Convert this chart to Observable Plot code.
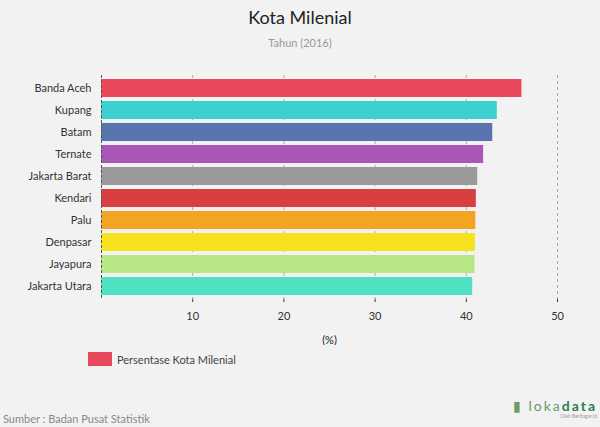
<!DOCTYPE html>
<html>
<head>
<meta charset="utf-8">
<script src="https://cdn.jsdelivr.net/npm/d3@7"></script>
<script src="https://cdn.jsdelivr.net/npm/@observablehq/plot@0.6"></script>
<style>
  html, body { margin: 0; padding: 0; background: #f2f2f2; width: 600px; height: 427px; overflow: hidden; font-family: Lato, "Open Sans", sans-serif; }
  #wrap { position: relative; width: 600px; height: 427px; }
  #title { position: absolute; top: 6px; left: 0; width: 600px; text-align: center; font-size: 18px; color: #222; }
  #subtitle { position: absolute; top: 36px; left: 0; width: 600px; text-align: center; font-size: 11px; color: #999; }
  #chart { position: absolute; top: 0; left: 0; }
  #legend { position: absolute; top: 352px; left: 88px; display: flex; align-items: center; font-size: 11px; color: #444; }
  #legend .sw { width: 24px; height: 14px; background: #e8495b; margin-right: 5px; }
  #source { position: absolute; top: 412px; left: 3px; font-size: 11px; color: #888; }
  #logo { position: absolute; top: 399px; right: 3px; text-align: right; }
  #logo .l1 { font-size: 14px; letter-spacing: 2px; color: #6a9a6a; line-height: 14px; }
  #logo .l1 b { color: #2e7d4f; font-weight: bold; }
  #logo .l2 { font-size: 5px; color: #999; }
</style>
</head>
<body>
<div id="wrap">
  <div id="title">Kota Milenial</div>
  <div id="subtitle">Tahun (2016)</div>
  <div id="chart"></div>
  <div id="legend"><div class="sw"></div><span>Persentase Kota Milenial</span></div>
  <div id="source">Sumber : Badan Pusat Statistik</div>
  <div id="logo"><div class="l1">&#9646; loka<b>data</b></div><div class="l2">Oleh Beritagar.id</div></div>
</div>
<script>
const cities = ["Banda Aceh", "Kupang", "Batam", "Ternate", "Jakarta Barat", "Kendari", "Palu", "Denpasar", "Jayapura", "Jakarta Utara"];
const values = [46.1, 43.4, 42.9, 41.9, 41.25, 41.1, 41.05, 41.0, 40.95, 40.7];
const colors = ["#e8495b", "#3cd0ce", "#5a74ae", "#a957b6", "#9a9a9a", "#d8403f", "#f3a423", "#f7e31d", "#b9e785", "#4fe2c1"];
const xTicks = [10, 20, 30, 40, 50];

const data = cities.map((c, i) => ({ city: c, value: values[i], color: colors[i] }));

const plot = Plot.plot({
  width: 600,
  height: 345,
  marginLeft: 101,
  marginRight: 43,
  marginTop: 75,
  marginBottom: 46,
  style: { background: "transparent", fontFamily: "Lato, 'Open Sans', sans-serif", fontSize: "11px", color: "#333" },
  x: { domain: [0, 50], ticks: xTicks },
  y: { domain: cities, paddingInner: 0.2, paddingOuter: 0.1 },
  marks: [
    Plot.ruleX(xTicks, { stroke: "#aaa", strokeDasharray: "3,3", strokeWidth: 1 }),
    Plot.barX(data, { y: "city", x: "value", fill: "color" }),
    Plot.ruleX([0], { stroke: "#555", strokeDasharray: "3,2" }),
    Plot.axisX({ ticks: xTicks, tickSize: 3, tickPadding: 10, label: null, color: "#333" }),
    Plot.axisY({ tickSize: 0, tickPadding: 10, color: "#333", label: null }),
    Plot.text(["(%)"], { frameAnchor: "bottom", dy: 44, fontSize: 11, fill: "#222" })
  ]
});
document.getElementById("chart").appendChild(plot);
</script>
</body>
</html>
